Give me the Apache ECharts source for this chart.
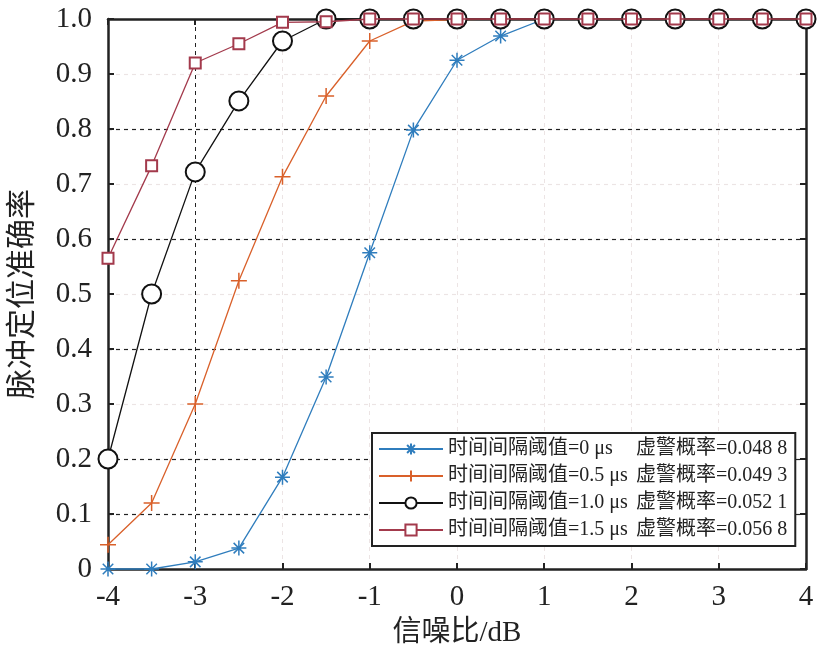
<!DOCTYPE html>
<html>
<head>
<meta charset="utf-8">
<script src="https://cdn.jsdelivr.net/npm/echarts@6/dist/echarts.min.js"></script>
<style>html,body{margin:0;padding:0;background:#fff}#c{width:837px;height:663px}</style>
</head>
<body>
<div id="c"></div>
<script>
const snr = [-4,-3.5,-3,-2.5,-2,-1.5,-1,-0.5,0,0.5,1,1.5,2,2.5,3,3.5,4];
const acc0 = [0,0,0.013,0.038,0.167,0.349,0.575,0.798,0.925,0.969,1,1,1,1,1,1,1];
const acc05 = [0.044,0.12,0.30,0.524,0.713,0.86,0.96,0.996,0.999,1,1,1,1,1,1,1,1];
const acc10 = [0.2,0.5,0.722,0.851,0.96,1,1,1,1,1,1,1,1,1,1,1,1];
const acc15 = [0.565,0.733,0.92,0.955,0.994,0.995,1,1,1,1,1,1,1,1,1,1,1];
const seriesNames = ['时间间隔阈值=0 μs','时间间隔阈值=0.5 μs','时间间隔阈值=1.0 μs','时间间隔阈值=1.5 μs'];
const falseAlarm = ['虚警概率=0.048 8','虚警概率=0.049 3','虚警概率=0.052 1','虚警概率=0.056 8'];
const xTicks = ['-4','-3','-2','-1','0','1','2','3','4'];
const yTicks = ['0','0.1','0.2','0.3','0.4','0.5','0.6','0.7','0.8','0.9','1.0'];

const FONT = '"Liberation Serif", "Times New Roman", "Noto Sans CJK SC", serif';
const colors = ['#2f7dbd', '#d9602a', '#111111', '#a33a4c'];
const asterisk = 'path://M5,0L5,10M0,5L10,5M1.5,1.5L8.5,8.5M1.5,8.5L8.5,1.5';
const plus = 'path://M5,0L5,10M0,5L10,5';
const dark = '#222', faint = '#ece4e4';
const yGridColors = ['#fff', dark, dark, faint, dark, faint, dark, faint, dark, faint, '#fff'];
const xGridColors = ['#fff', dark, faint, faint, faint, faint, faint, faint, '#fff'];

const datasets = [acc0, acc05, acc10, acc15];
const symbols = [asterisk, plus, 'emptyCircle', 'emptyRect'];
const sizes = [15, 16, 19, 11];

const series = datasets.map((d, i) => {
  const pathSym = i < 2;
  return {
    name: seriesNames[i],
    type: 'line',
    data: snr.map((x, j) => [x, d[j]]),
    symbol: symbols[i],
    symbolSize: sizes[i],
    showAllSymbol: true,
    clip: false,
    lineStyle: { color: colors[i], width: 1.3 },
    itemStyle: pathSym
      ? { color: colors[i], borderColor: colors[i], borderWidth: 1.5 }
      : { color: colors[i], borderColor: colors[i], borderWidth: i === 2 ? 2 : 1.3 },
    emphasis: { disabled: true },
    z: 2 + i
  };
});

const chart = echarts.init(document.getElementById('c'));
chart.setOption({
  animation: false,
  backgroundColor: '#fff',
  grid: { left: 105, right: 31, top: 19, bottom: 94 },
  xAxis: [{
    type: 'value', min: -4, max: 4, interval: 1,
    name: '信噪比/dB', nameLocation: 'middle', nameGap: 50,
    nameTextStyle: { fontFamily: FONT, fontSize: 29, color: '#222' },
    axisLine: { show: true, onZero: false, lineStyle: { color: '#222', width: 2.5 } },
    axisTick: { show: true, inside: true, length: 6, lineStyle: { color: '#222', width: 2 } },
    axisLabel: { fontFamily: FONT, fontSize: 29, color: '#222', margin: 14,
      formatter: v => xTicks[Math.round(v + 4)] },
    splitLine: { show: true, lineStyle: { color: xGridColors, type: [4, 4], width: 1 } }
  }, {
    type: 'value', min: -4, max: 4, interval: 1, position: 'top',
    axisLine: { show: true, onZero: false, lineStyle: { color: '#222', width: 2.5 } },
    axisTick: { show: true, inside: true, length: 6, lineStyle: { color: '#222', width: 2 } },
    axisLabel: { show: false }, splitLine: { show: false }
  }],
  yAxis: [{
    type: 'value', min: 0, max: 1, interval: 0.1,
    name: '脉冲定位准确率', nameLocation: 'middle', nameGap: 70,
    nameTextStyle: { fontFamily: FONT, fontSize: 30, color: '#222' },
    axisLine: { show: true, onZero: false, lineStyle: { color: '#222', width: 2.5 } },
    axisTick: { show: true, inside: true, length: 6, lineStyle: { color: '#222', width: 2 } },
    axisLabel: { fontFamily: FONT, fontSize: 29, color: '#222', margin: 16,
      formatter: v => yTicks[Math.round(v * 10)] },
    splitLine: { show: true, lineStyle: { color: yGridColors, type: [4, 4], width: 1.2 } }
  }, {
    type: 'value', min: 0, max: 1, interval: 0.1, position: 'right',
    axisLine: { show: true, onZero: false, lineStyle: { color: '#222', width: 2.5 } },
    axisTick: { show: true, inside: true, length: 6, lineStyle: { color: '#222', width: 2 } },
    axisLabel: { show: false }, splitLine: { show: false }
  }],
  legend: {
    left: 372, top: 433,
    orient: 'vertical',
    backgroundColor: '#fff',
    borderColor: '#222', borderWidth: 2, borderRadius: 0,
    padding: [6, 8, 6, 6],
    itemWidth: 64, itemHeight: 14, itemGap: 7,
    selectedMode: false,
    data: seriesNames,
    formatter: name => {
      const i = seriesNames.indexOf(name);
      return '{a|' + name + '}{b|' + falseAlarm[i] + '}';
    },
    textStyle: {
      fontFamily: FONT, fontSize: 20, color: '#222',
      rich: {
        a: { fontFamily: FONT, fontSize: 20, color: '#222', width: 188 },
        b: { fontFamily: FONT, fontSize: 20, color: '#222' }
      }
    }
  },
  series: series
});
</script>
</body>
</html>
